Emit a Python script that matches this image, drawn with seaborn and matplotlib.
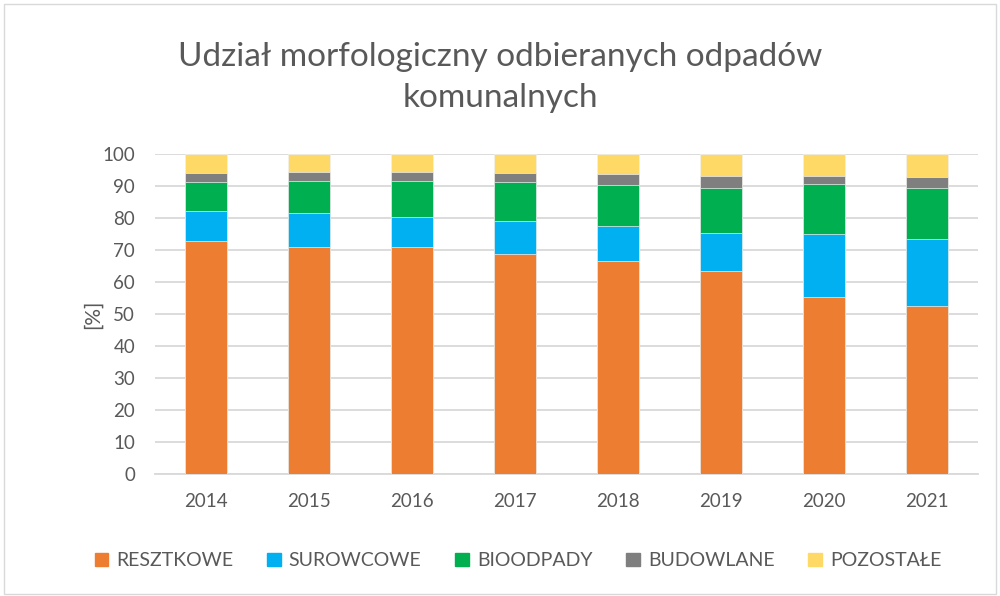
import seaborn as sns
import pandas as pd
import matplotlib.pyplot as plt
from matplotlib.patches import Rectangle, Patch

years = ["2014", "2015", "2016", "2017", "2018", "2019", "2020", "2021"]
resztkowe = [72.8, 70.8, 70.8, 68.7, 66.6, 63.3, 55.4, 52.5]
surowcowe = [9.5, 10.7, 9.6, 10.4, 10.8, 12.0, 19.5, 20.8]
bioodpady = [8.8, 10.1, 11.2, 12.0, 12.9, 14.1, 15.6, 16.1]
budowlane = [2.8, 2.9, 2.9, 2.8, 3.3, 3.8, 2.7, 3.3]
pozostale = [6.1, 5.5, 5.5, 6.1, 6.4, 6.8, 6.8, 7.3]

names = ["RESZTKOWE", "SUROWCOWE", "BIOODPADY", "BUDOWLANE", "POZOSTAŁE"]
colors = ["#ED7D31", "#00B0F0", "#00B050", "#7F7F7F", "#FFD966"]

df = pd.DataFrame({"rok": years, names[0]: resztkowe, names[1]: surowcowe,
                   names[2]: bioodpady, names[3]: budowlane, names[4]: pozostale})
cum = df[names].cumsum(axis=1)
cum["rok"] = df["rok"]

sns.set_style("white")
plt.rcParams["font.family"] = ["Lato", "DejaVu Sans"]

fig = plt.figure(figsize=(10, 5.96), dpi=100)
ax = fig.add_axes([0.1545, 0.2047, 0.824, 0.537])

# stacked bars: draw cumulative totals from top segment down
for name, col in reversed(list(zip(names, colors))):
    sns.barplot(data=cum, x="rok", y=name, color=col, width=0.4,
                saturation=1, ax=ax, zorder=3, linewidth=0.5, edgecolor="#f0f0f0")

ax.set_ylim(0, 100)
ax.set_yticks(range(0, 101, 10))
ax.yaxis.grid(True, color="#d9d9d9", linewidth=1.3, zorder=0)
ax.set_axisbelow(True)
for s in ["top", "right", "left"]:
    ax.spines[s].set_visible(False)
ax.spines["bottom"].set_color("#d9d9d9")
ax.spines["bottom"].set_linewidth(1.3)
ax.tick_params(axis="both", length=0, labelsize=13.5, colors="#595959", pad=14)
ax.tick_params(axis="x", pad=14)
ax.set_xlabel("")
ax.set_ylabel("[%]", fontsize=15, color="#595959", labelpad=0)

fig.text(0.5, 0.87, "Udział morfologiczny odbieranych odpadów\nkomunalnych",
         ha="center", va="center", fontsize=24, color="#595959", linespacing=1.45)

handles = [Patch(facecolor=c, edgecolor=c, label=n) for n, c in zip(names, colors)]
fig.legend(handles=handles, loc="center", bbox_to_anchor=(0.518, 0.059), ncol=5,
           frameon=False, fontsize=14, labelcolor="#595959", handlelength=0.7,
           handleheight=0.7, handletextpad=0.4, columnspacing=1.75)

fig.patches.append(Rectangle((0.004, 0.004), 0.992, 0.99, transform=fig.transFigure,
                             fill=False, edgecolor="#d9d9d9", linewidth=1))

fig.savefig("out.png", dpi=100)
